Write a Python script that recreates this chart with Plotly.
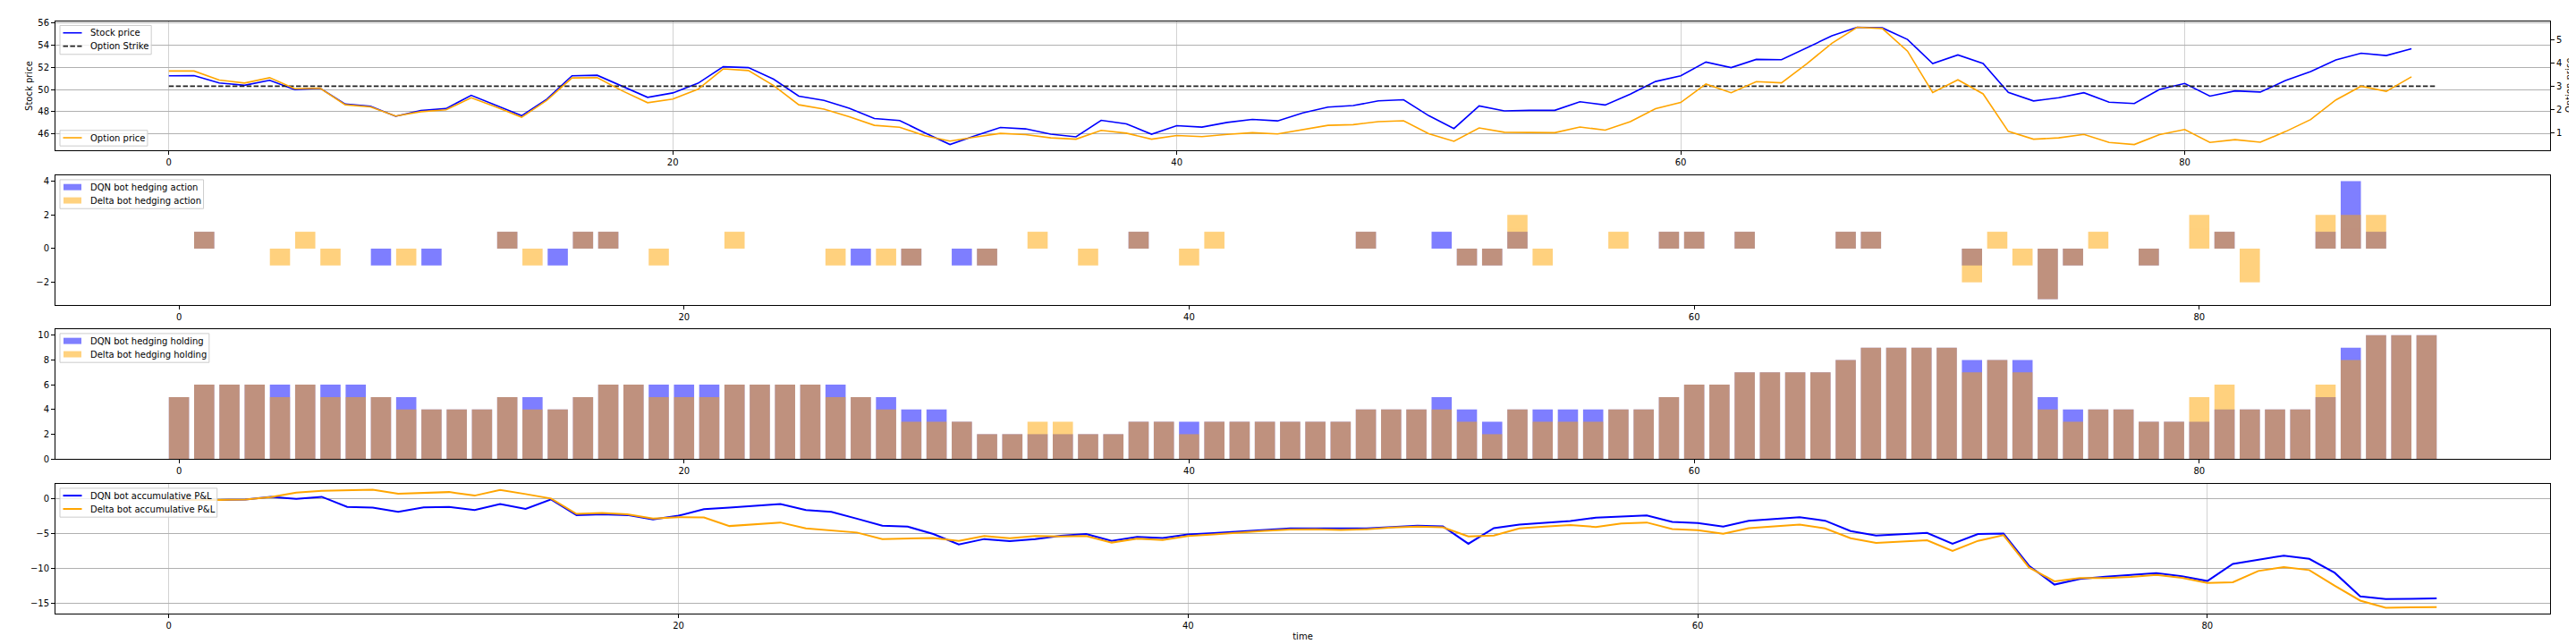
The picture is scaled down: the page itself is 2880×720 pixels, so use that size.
import plotly.graph_objects as go

# ---------------- data ----------------
stock = [51.23, 51.25, 50.59, 50.38, 50.83, 49.98, 50.11, 48.68, 48.49, 47.59,
         48.10, 48.28, 49.47, 48.55, 47.64, 49.13, 51.23, 51.28, 50.30, 49.29,
         49.69, 50.56, 52.05, 51.97, 50.93, 49.40, 49.02, 48.31, 47.38, 47.20,
         46.10, 45.04, 45.84, 46.58, 46.45, 45.97, 45.73, 47.22, 46.90, 45.97,
         46.74, 46.61, 47.03, 47.30, 47.17, 47.88, 48.41, 48.55, 48.97, 49.08,
         47.64, 46.48, 48.52, 48.07, 48.12, 48.12, 48.89, 48.60, 49.58, 50.72,
         51.23, 52.47, 51.97, 52.71, 52.68, 53.77, 54.83, 55.60, 55.55, 54.51,
         52.34, 53.11, 52.34, 49.74, 48.97, 49.26, 49.71, 48.86, 48.73, 50.00,
         50.54, 49.40, 49.87, 49.77, 50.80, 51.62, 52.66, 53.27, 53.06, 53.67]

option = [3.66, 3.66, 3.27, 3.14, 3.37, 2.89, 2.92, 2.20, 2.11, 1.71,
          1.90, 1.98, 2.50, 2.10, 1.66, 2.39, 3.36, 3.37, 2.80, 2.29,
          2.45, 2.87, 3.75, 3.68, 3.03, 2.20, 2.01, 1.68, 1.31, 1.23,
          0.86, 0.63, 0.80, 0.96, 0.91, 0.77, 0.71, 1.09, 0.97, 0.71,
          0.87, 0.82, 0.92, 0.99, 0.94, 1.13, 1.31, 1.34, 1.47, 1.51,
          0.95, 0.62, 1.20, 1.01, 1.01, 0.99, 1.24, 1.10, 1.47, 2.03,
          2.30, 3.10, 2.72, 3.20, 3.15, 3.97, 4.86, 5.55, 5.50, 4.52,
          2.73, 3.28, 2.67, 1.05, 0.71, 0.77, 0.92, 0.57, 0.48, 0.91,
          1.13, 0.57, 0.69, 0.58, 1.04, 1.56, 2.41, 3.00, 2.78, 3.41]

strike = 50.3

dqn_action = [0, 1, 0, 0, 0, 0, 0, 0, -1, 0,
              -1, 0, 0, 1, 0, -1, 1, 1, 0, 0,
              0, 0, 0, 0, 0, 0, 0, -1, 0, -1,
              0, -1, -1, 0, 0, 0, 0, 0, 1, 0,
              0, 0, 0, 0, 0, 0, 0, 1, 0, 0,
              1, -1, -1, 1, 0, 0, 0, 0, 0, 1,
              1, 0, 1, 0, 0, 0, 1, 1, 0, 0,
              0, -1, 0, 0, -3, -1, 0, 0, -1, 0,
              0, 1, 0, 0, 0, 1, 4, 1, 0, 0]

delta_action = [0, 1, 0, 0, -1, 1, -1, 0, 0, -1,
                0, 0, 0, 1, -1, 0, 1, 1, 0, -1,
                0, 0, 1, 0, 0, 0, -1, 0, -1, -1,
                0, 0, -1, 0, 1, 0, -1, 0, 1, 0,
                -1, 1, 0, 0, 0, 0, 0, 1, 0, 0,
                0, -1, -1, 2, -1, 0, 0, 1, 0, 1,
                1, 0, 1, 0, 0, 0, 1, 1, 0, 0,
                0, -2, 1, -1, -3, -1, 1, 0, -1, 0,
                2, 1, -2, 0, 0, 2, 2, 2, 0, 0]

dqn_holding = [5, 6, 6, 6, 6, 6, 6, 6, 5, 5,
               4, 4, 4, 5, 5, 4, 5, 6, 6, 6,
               6, 6, 6, 6, 6, 6, 6, 5, 5, 4,
               4, 3, 2, 2, 2, 2, 2, 2, 3, 3,
               3, 3, 3, 3, 3, 3, 3, 4, 4, 4,
               5, 4, 3, 4, 4, 4, 4, 4, 4, 5,
               6, 6, 7, 7, 7, 7, 8, 9, 9, 9,
               9, 8, 8, 8, 5, 4, 4, 4, 3, 3,
               3, 4, 4, 4, 4, 5, 9, 10, 10, 10]

delta_holding = [5, 6, 6, 6, 5, 6, 5, 5, 5, 4,
                 4, 4, 4, 5, 4, 4, 5, 6, 6, 5,
                 5, 5, 6, 6, 6, 6, 5, 5, 4, 3,
                 3, 3, 2, 2, 3, 3, 2, 2, 3, 3,
                 2, 3, 3, 3, 3, 3, 3, 4, 4, 4,
                 4, 3, 2, 4, 3, 3, 3, 4, 4, 5,
                 6, 6, 7, 7, 7, 7, 8, 9, 9, 9,
                 9, 7, 8, 7, 4, 3, 4, 4, 3, 3,
                 5, 6, 4, 4, 4, 6, 8, 10, 10, 10]

dqn_pnl = [-0.10, -0.20, -0.20, -0.15, 0.25, -0.05, 0.25, -1.19, -1.30, -1.90,
           -1.27, -1.19, -1.65, -0.80, -1.48, -0.13, -2.37, -2.25, -2.37, -3.00,
           -2.46, -1.53, -1.31, -1.06, -0.80, -1.65, -1.91, -2.88, -3.90, -4.03,
           -5.08, -6.57, -5.80, -6.10, -5.80, -5.34, -5.08, -6.06, -5.51, -5.64,
           -5.13, -4.96, -4.70, -4.49, -4.28, -4.28, -4.36, -4.28, -4.07, -3.90,
           -3.98, -6.48, -4.24, -3.73, -3.47, -3.22, -2.75, -2.54, -2.42, -3.35,
           -3.52, -4.03, -3.18, -2.92, -2.67, -3.18, -4.66, -5.30, -5.13, -4.92,
           -6.48, -5.08, -5.00, -9.62, -12.33, -11.53, -11.19, -10.93, -10.68, -11.14,
           -11.82, -9.36, -8.81, -8.18, -8.64, -10.64, -14.03, -14.41, -14.36, -14.32]

delta_pnl = [-0.10, -0.20, -0.20, -0.15, 0.20, 0.85, 1.10, 1.19, 1.27, 0.68,
             0.80, 0.93, 0.42, 1.23, 0.64, 0.00, -2.20, -2.08, -2.25, -2.88,
             -2.67, -2.71, -3.94, -3.69, -3.43, -4.28, -4.58, -4.87, -5.80, -5.72,
             -5.64, -6.06, -5.38, -5.68, -5.38, -5.42, -5.38, -6.31, -5.76, -5.93,
             -5.38, -5.13, -4.83, -4.62, -4.45, -4.40, -4.49, -4.40, -4.15, -4.03,
             -4.11, -5.42, -5.30, -4.28, -4.03, -3.81, -4.07, -3.56, -3.43, -4.36,
             -4.53, -5.04, -4.24, -4.03, -3.73, -4.28, -5.68, -6.36, -6.19, -5.97,
             -7.50, -6.06, -5.25, -9.87, -11.86, -11.40, -11.40, -11.23, -10.93, -11.36,
             -12.08, -11.99, -10.38, -9.83, -10.25, -12.50, -14.62, -15.64, -15.60, -15.55]

t = list(range(len(stock)))
t_strike = list(range(len(stock) + 1))
strike_line = [strike] * len(t_strike)

# ---------------- layout geometry ----------------
W, H = 2880, 720
ML, MR, MT, MB = 54, 37, 12, 42
PW, PH = W - ML - MR, H - MT - MB
rows_px = [(12, 157), (185, 331), (358, 504), (532, 678)]


def px_x(px):
    return (px - ML) / PW


def px_y(py):
    return (H - MB - py) / PH


doms = [[px_y(b), px_y(a)] for a, b in rows_px]


def pad(lo, hi, m=0.05):
    d = (hi - lo) * m
    return [lo - d, hi + d]


FONT = "DejaVu Sans"
FS = 10
BLUE, ORANGE = "blue", "orange"
BLUE_A, ORANGE_A = "rgba(0,0,255,0.5)", "rgba(255,165,0,0.5)"
STRIKE_C = "#222222"
STRIKE_DASH = "5.5px,2.4px"

fig = go.Figure()

# P1
fig.add_trace(go.Scatter(x=t, y=stock, mode="lines", name="Stock price",
                         line=dict(color=BLUE, width=1.6), xaxis="x", yaxis="y"))
fig.add_trace(go.Scatter(x=t_strike, y=strike_line, mode="lines", name="Option Strike",
                         line=dict(color=STRIKE_C, width=1.8, dash=STRIKE_DASH),
                         xaxis="x", yaxis="y"))
fig.add_trace(go.Scatter(x=t, y=option, mode="lines", name="Option price",
                         line=dict(color=ORANGE, width=1.6), xaxis="x", yaxis="y2"))
# P2
fig.add_trace(go.Bar(x=t, y=dqn_action, name="DQN bot hedging action", width=0.8,
                     marker=dict(color=BLUE, line=dict(width=0)), opacity=0.5,
                     xaxis="x2", yaxis="y3"))
fig.add_trace(go.Bar(x=t, y=delta_action, name="Delta bot hedging action", width=0.8,
                     marker=dict(color=ORANGE, line=dict(width=0)), opacity=0.5,
                     xaxis="x2", yaxis="y3"))
# P3
fig.add_trace(go.Bar(x=t, y=dqn_holding, name="DQN bot hedging holding", width=0.8,
                     marker=dict(color=BLUE, line=dict(width=0)), opacity=0.5,
                     xaxis="x3", yaxis="y4"))
fig.add_trace(go.Bar(x=t, y=delta_holding, name="Delta bot hedging holding", width=0.8,
                     marker=dict(color=ORANGE, line=dict(width=0)), opacity=0.5,
                     xaxis="x3", yaxis="y4"))
# P4
fig.add_trace(go.Scatter(x=t, y=dqn_pnl, mode="lines", name="DQN bot accumulative P&L",
                         line=dict(color=BLUE, width=2), xaxis="x4", yaxis="y5"))
fig.add_trace(go.Scatter(x=t, y=delta_pnl, mode="lines", name="Delta bot accumulative P&L",
                         line=dict(color=ORANGE, width=2), xaxis="x4", yaxis="y5"))


def axis(**kw):
    base = dict(showline=True, linecolor="black", linewidth=1, mirror=True,
                ticks="outside", ticklen=4, tickwidth=1, tickcolor="black",
                zeroline=False, showgrid=False, tickfont=dict(size=FS, color="black"))
    base.update(kw)
    return base


XG = dict(showgrid=True, gridcolor="#d2d2d2", gridwidth=1)
YG = dict(showgrid=True, gridcolor="#b0b0b0", gridwidth=1.2)

n = len(t)
x_line = pad(0, len(t_strike) - 1)
x_bar = pad(-0.4, n - 1 + 0.4)
x_pnl = pad(0, n - 1)

all_s = stock + [strike]
act = dqn_action + delta_action + [0]
hold = dqn_holding + delta_holding
pnl = dqn_pnl + delta_pnl

# ---------------- matplotlib-like legends (shapes + text) ----------------
# DejaVu Sans advance widths (em) used to size the legend frames
GLYPH_W = {" ": 0.318, "&": 0.779, "D": 0.770, "L": 0.557, "N": 0.748, "O": 0.787,
           "P": 0.603, "Q": 0.787, "S": 0.635, "a": 0.613, "b": 0.635, "c": 0.550,
           "d": 0.635, "e": 0.615, "g": 0.635, "h": 0.634, "i": 0.278, "k": 0.579,
           "l": 0.278, "m": 0.974, "n": 0.634, "o": 0.612, "p": 0.635, "r": 0.411,
           "t": 0.392, "u": 0.634, "v": 0.592}


def text_width(s):
    return sum(GLYPH_W.get(ch, 0.6) for ch in s) * FS


shapes, annotations = [], []


def add_legend(items, top=None, bottom=None):
    nrow = len(items)
    box_h = 2.5 + 15 * nrow
    if top is None:
        top = bottom - box_h
    left = ML + 5
    tw = max(text_width(lbl) for lbl, *_ in items)
    right = left + 32.5 + tw + 4
    shapes.append(dict(type="rect", xref="paper", yref="paper", layer="above",
                       x0=px_x(left), x1=px_x(right), y0=px_y(top + box_h), y1=px_y(top),
                       fillcolor="rgba(255,255,255,0.8)",
                       line=dict(color="#cccccc", width=1)))
    for i, (lbl, kind, color, extra) in enumerate(items):
        yc = top + 8.3 + 15 * i
        if kind == "line":
            shapes.append(dict(type="line", xref="paper", yref="paper", layer="above",
                               x0=px_x(left + 3.5), x1=px_x(left + 24.5),
                               y0=px_y(yc), y1=px_y(yc),
                               line=dict(color=color, width=extra.get("width", 1.6),
                                         dash=extra.get("dash", "solid"))))
        else:
            shapes.append(dict(type="rect", xref="paper", yref="paper", layer="above",
                               x0=px_x(left + 4), x1=px_x(left + 24),
                               y0=px_y(yc + 3.5), y1=px_y(yc - 3.5),
                               fillcolor=color, line=dict(width=0)))
        annotations.append(dict(text=lbl, xref="paper", yref="paper", showarrow=False,
                                x=px_x(left + 32.5), y=px_y(yc), xanchor="left",
                                yanchor="middle", borderpad=0,
                                font=dict(size=FS, color="black", family=FONT)))


add_legend([("Stock price", "line", BLUE, {}),
            ("Option Strike", "line", STRIKE_C, {"dash": STRIKE_DASH, "width": 1.8})],
           top=rows_px[0][0] + 4.5)
add_legend([("Option price", "line", ORANGE, {})], bottom=rows_px[0][1] - 5)
add_legend([("DQN bot hedging action", "patch", BLUE_A, {}),
            ("Delta bot hedging action", "patch", ORANGE_A, {})],
           top=rows_px[1][0] + 5)
add_legend([("DQN bot hedging holding", "patch", BLUE_A, {}),
            ("Delta bot hedging holding", "patch", ORANGE_A, {})],
           top=rows_px[2][0] + 5)
add_legend([("DQN bot accumulative P&L", "line", BLUE, {"width": 2}),
            ("Delta bot accumulative P&L", "line", ORANGE, {"width": 2})],
           top=rows_px[3][0] + 5)

# right axis title of the top panel
annotations.append(dict(text="Option price", xref="paper", yref="paper", showarrow=False,
                        x=px_x(W - 16), y=(doms[0][0] + doms[0][1]) / 2,
                        xanchor="center", yanchor="middle", textangle=-90, borderpad=0,
                        font=dict(size=FS, color="black", family=FONT)))

fig.update_layout(
    width=W, height=H,
    margin=dict(l=ML, r=MR, t=MT, b=MB, pad=0),
    paper_bgcolor="white", plot_bgcolor="white",
    font=dict(family=FONT, size=FS, color="black"),
    barmode="overlay",
    showlegend=False,
    xaxis=axis(domain=[0, 1], anchor="y", range=x_line, dtick=20, tick0=0, **XG),
    yaxis=axis(domain=doms[0], anchor="x", range=pad(min(all_s), max(all_s)), dtick=2,
               title=dict(text="Stock price", font=dict(size=FS), standoff=3), **YG),
    yaxis2=axis(domain=doms[0], anchor="x", overlaying="y", side="right", mirror=False,
                range=pad(min(option), max(option)), dtick=1),
    xaxis2=axis(domain=[0, 1], anchor="y3", range=x_bar, dtick=20, tick0=0),
    yaxis3=axis(domain=doms[1], anchor="x2", range=pad(min(act), max(act)), dtick=2),
    xaxis3=axis(domain=[0, 1], anchor="y4", range=x_bar, dtick=20, tick0=0),
    yaxis4=axis(domain=doms[2], anchor="x3", range=[0, max(hold) * 1.05], dtick=2),
    xaxis4=axis(domain=[0, 1], anchor="y5", range=x_pnl, dtick=20, tick0=0,
                title=dict(text="time", font=dict(size=FS), standoff=3), **XG),
    yaxis5=axis(domain=doms[3], anchor="x4", range=pad(min(pnl), max(pnl)), dtick=5, **YG),
    shapes=shapes,
    annotations=annotations,
)

fig.write_html("out.html")
